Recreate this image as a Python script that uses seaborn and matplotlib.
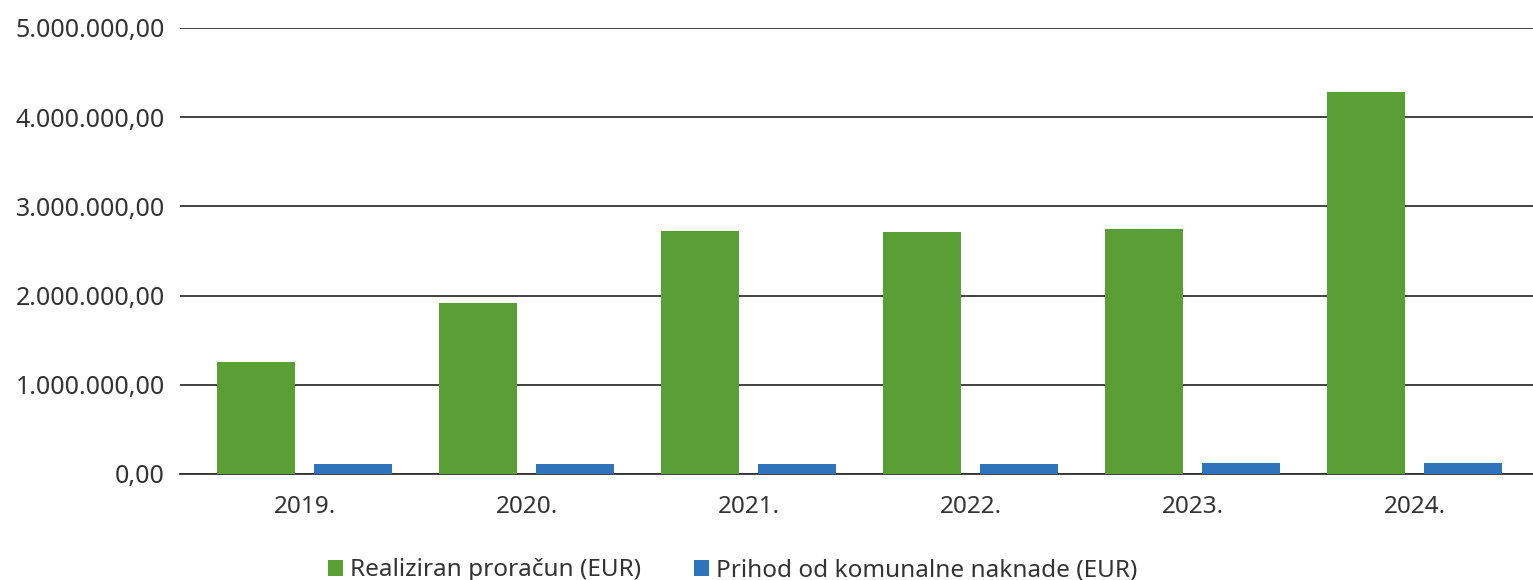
import matplotlib
matplotlib.use("Agg")
import matplotlib.pyplot as plt
import seaborn as sns
import pandas as pd
from matplotlib.ticker import FuncFormatter

years = ["2019.", "2020.", "2021.", "2022.", "2023.", "2024."]
realiziran = [1256000, 1917000, 2724000, 2713000, 2747000, 4283000]
prihod = [112000, 112000, 112000, 112000, 123000, 123000]
series_names = ["Realiziran proračun (EUR)", "Prihod od komunalne naknade (EUR)"]
colors = ["#5A9F35", "#2F74BA"]

df = pd.DataFrame({
    "year": years * 2,
    "value": realiziran + prihod,
    "series": [series_names[0]] * len(years) + [series_names[1]] * len(years),
})

sns.set_theme(style="white")
plt.rcParams["font.family"] = ["Noto Sans", "DejaVu Sans"]

W, H = 1533, 580
fig = plt.figure(figsize=(W / 100, H / 100), dpi=100)
ax = fig.add_axes([180 / W, (H - 474) / H, (W - 180) / W, (474 - 28) / H])

sns.barplot(data=df, x="year", y="value", hue="series", palette=colors,
            width=0.874, gap=0.196, ax=ax, saturation=1, legend=True,
            linewidth=0, edgecolor="none", zorder=3)

ax.set_xlim(-0.563, 5.534)
ax.set_ylim(0, 5_000_000)
ax.set_yticks([0, 1e6, 2e6, 3e6, 4e6, 5e6])

def fmt(v, pos):
    s = f"{v:,.2f}"
    return s.replace(",", "X").replace(".", ",").replace("X", ".")

ax.yaxis.set_major_formatter(FuncFormatter(fmt))
ax.yaxis.grid(True, color="#333333", linewidth=1.3, zorder=0)
ax.set_axisbelow(True)
for s in ["top", "right", "left"]:
    ax.spines[s].set_visible(False)
ax.spines["bottom"].set_color("#333333")
ax.spines["bottom"].set_linewidth(1.3)
ax.spines["bottom"].set_zorder(1)
ax.set_xlabel("")
ax.set_ylabel("")
ax.tick_params(axis="y", labelsize=18, colors="#333333", length=0, pad=11)
ax.tick_params(axis="x", labelsize=17.5, colors="#333333", length=0, pad=15)

handles, labels = ax.get_legend_handles_labels()
ax.get_legend().remove()
fig.legend(handles, labels, loc="lower center", bbox_to_anchor=(0.478, -0.042),
           ncol=2, frameon=False, fontsize=17.5, handlelength=0.6,
           handleheight=0.6, handletextpad=0.3, columnspacing=2.2,
           labelcolor="#333333")

fig.savefig("out.png", dpi=100)
